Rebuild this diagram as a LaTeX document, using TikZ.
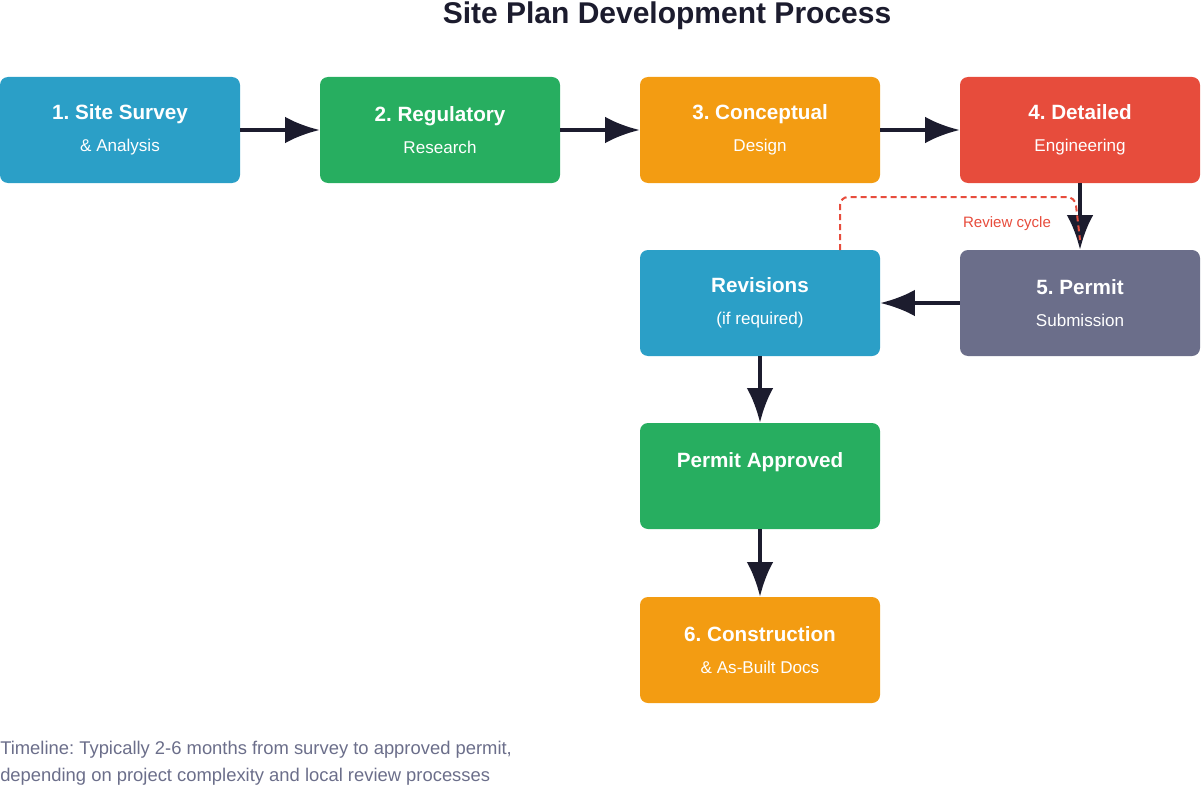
\documentclass[tikz,border=0pt]{standalone}
\usepackage{fontspec}
\setmainfont{Liberation Sans}
\usetikzlibrary{arrows.meta}
\frenchspacing
\definecolor{cblue}{HTML}{2B9FC7}
\definecolor{cgreen}{HTML}{27AE60}
\definecolor{corange}{HTML}{F39C12}
\definecolor{cred}{HTML}{E74C3C}
\definecolor{cgray}{HTML}{6B6E8A}
\definecolor{cdark}{HTML}{1C1C2E}
\tikzset{
  stage/.style={rounded corners=6pt, minimum width=180pt, minimum height=79.5pt, text=white, align=center, inner sep=0pt, font=\fontsize{12.8}{24}\selectfont},
  flow/.style={draw=cdark, line width=3pt, -{Latex[length=26pt,width=20pt]}},
}
\newcommand{\hd}[1]{{\fontsize{15.5}{24}\selectfont\bfseries #1}}
\begin{document}
\begin{tikzpicture}[x=0.75pt, y=-0.75pt]
  \useasboundingbox (0,0) rectangle (1201,788);
  \node [font=\fontsize{22.5}{26}\selectfont\bfseries, text=cdark, inner sep=0pt, anchor=base] (title) at (667,24) {Site Plan Development Process};
  % top row
  \node [stage, fill=cblue] (survey) at (120,130) {\hd{1. Site Survey}\\\& Analysis};
  \node [stage, fill=cgreen] (research) at (440,130) {\hd{2. Regulatory}\\Research};
  \node [stage, fill=corange] (concept) at (760,130) {\hd{3. Conceptual}\\Design};
  \node [stage, fill=cred] (detail) at (1080,130) {\hd{4. Detailed}\\Engineering};
  % permit loop
  \node [stage, fill=cgray] (permit) at (1080,303) {\hd{5. Permit}\\Submission};
  \node [stage, fill=cblue] (revise) at (760,303) {\hd{Revisions}\\(if required)};
  \node [stage, fill=cgreen] (approved) at (760,476) {\hd{Permit Approved}\\\phantom{x}};
  \node [stage, fill=corange] (build) at (760,650) {\hd{6. Construction}\\\& As-Built Docs};
  \draw [flow] (survey) -- (research);
  \draw [flow] (research) -- (concept);
  \draw [flow] (concept) -- (detail);
  \draw [flow] (detail) -- (permit);
  \draw [flow] (permit) -- (revise);
  \draw [flow] (revise) -- (approved);
  \draw [flow] (approved) -- (build);
  \coordinate (loopstart) at (840,250);
  \coordinate (loopend) at (1080,240);
  \draw [cred, dash pattern=on 4.5pt off 3pt, line width=1.5pt, rounded corners=6pt] (loopstart) -- (840,197) -- (1075,197) -- (loopend);
  \node [text=cred, font=\fontsize{11.3}{13}\selectfont] (cycle) at (1007,224) {Review cycle};
  \node [text=cgray, anchor=west, align=left, inner sep=0pt, font=\fontsize{13.8}{20.5}\selectfont] (note) at (0,763) {Timeline: Typically 2-6 months from survey to approved permit,\\depending on project complexity and local review processes};
\end{tikzpicture}
\end{document}
